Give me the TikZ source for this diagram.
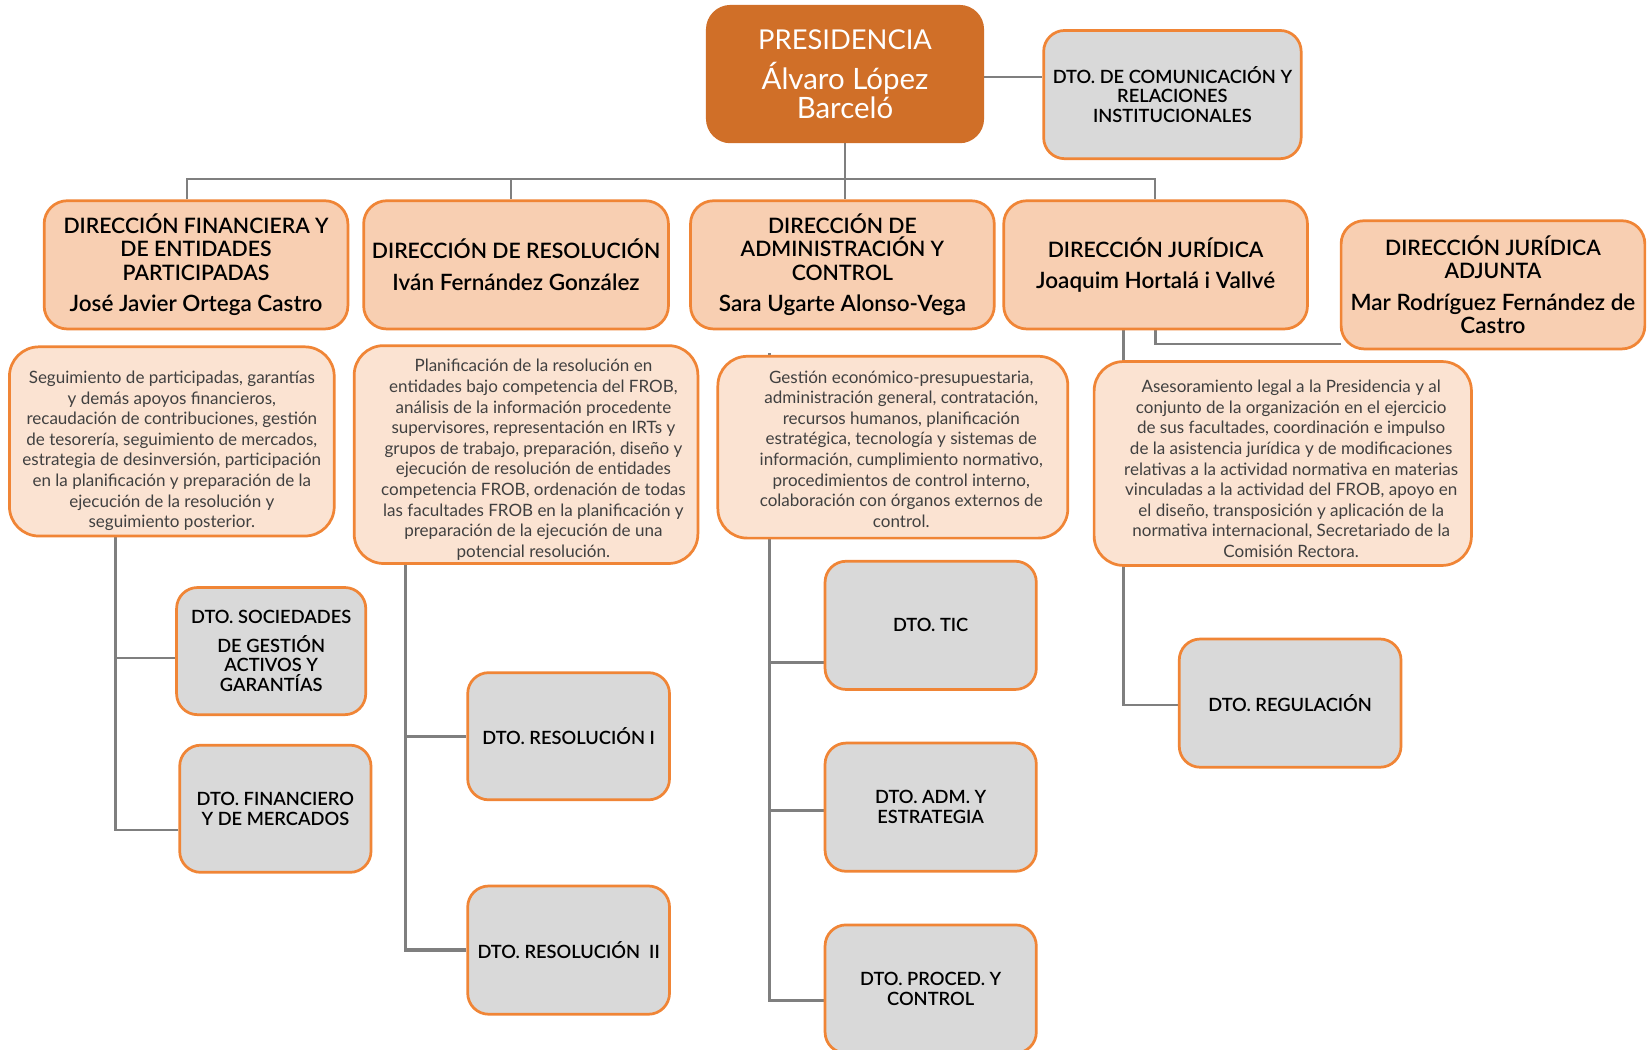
\documentclass[tikz,border=0pt]{standalone}
\usepackage{fontspec}
\IfFontExistsTF{Lato Semibold}{\setmainfont{Lato}[BoldFont={Lato Semibold}]}{\setmainfont{Lato}}
\usetikzlibrary{backgrounds}
\definecolor{presfill}{HTML}{D06F28}
\definecolor{obord}{HTML}{F08536}
\definecolor{dirfill}{HTML}{F8CFB2}
\definecolor{descfill}{HTML}{FBE3D2}
\definecolor{dtofill}{HTML}{D9D9D9}
\definecolor{conncol}{HTML}{7F7F7F}
\definecolor{desctext}{HTML}{404040}
\newcommand\myNameFont{\fontsize{10.7}{11}\selectfont}
\newcommand\myPresName{\fontsize{14}{13.5}\selectfont}
\begin{document}
\begin{tikzpicture}[x=0.5pt,y=-0.5pt,
 box/.style={rectangle, rounded corners=10pt, draw=obord, line width=1.3pt, align=center, inner sep=0pt},
 presbox/.style={box, rounded corners=11pt, fill=presfill, draw=presfill, text=white, font=\fontsize{13}{13.5}\selectfont},
 dirbox/.style={box, rounded corners=11pt, fill=dirfill, minimum width=144.5pt, minimum height=61pt, font=\fontsize{10.1}{11}\selectfont\bfseries},
 descbox/.style={box, fill=descfill, rounded corners=14pt, text=desctext, font=\fontsize{8.1}{9.8}\selectfont},
 dtobox/.style={box, fill=dtofill, minimum height=61pt, font=\fontsize{8.7}{9.4}\selectfont\bfseries},
 conn/.style={draw=conncol, line width=1.1pt},
]
\useasboundingbox (0,0) rectangle (1568,999);

% top
\node[presbox, minimum width=131pt, minimum height=64.5pt] (pres) at (804,70.5) {PRESIDENCIA\\[5.5pt]{\myPresName Álvaro López}\\{\myPresName Barceló}};
\node[dtobox, minimum width=122.5pt] (com) at (1115.5,90) {DTO. DE COMUNICACIÓN Y\\RELACIONES\\INSTITUCIONALES};

% direcciones
\node[dirbox] (d1) at (186.5,252) {DIRECCIÓN FINANCIERA Y\\DE ENTIDADES\\PARTICIPADAS\\[4pt]{\myNameFont José Javier Ortega Castro}};
\node[dirbox, minimum width=145pt] (d2) at (491,252) {DIRECCIÓN DE RESOLUCIÓN\\[4pt]{\myNameFont Iván Fernández González}};
\node[dirbox] (d3) at (801.5,252) {DIRECCIÓN DE\\ADMINISTRACIÓN Y\\CONTROL\\[4pt]{\myNameFont Sara Ugarte Alonso-Vega}};
\node[dirbox] (d4) at (1099.5,252) {DIRECCIÓN JURÍDICA\\[4pt]{\myNameFont Joaquim Hortalá i Vallvé}};
\node[dirbox] (d5) at (1420.5,271) {DIRECCIÓN JURÍDICA\\ADJUNTA\\[4pt]{\myNameFont Mar Rodríguez Fernández de}\\{\myNameFont Castro}};

% descriptions
\node[descbox, minimum width=154.5pt, minimum height=90pt] (desc1) at (163.5,420) {\rule{0pt}{15pt}Seguimiento de participadas, garantías\\y demás apoyos financieros,\\recaudación de contribuciones, gestión\\de tesorería, seguimiento de mercados,\\estrategia de desinversión, participación\\en la planificación y preparación de la\\ejecución de la resolución y\\seguimiento posterior.};
\node[descbox, minimum width=163.5pt, minimum height=103.5pt] (desc2) at (500.5,432.5) {\begin{tabular}{@{\hspace{7pt}}c@{}}\rule{0pt}{12.5pt}Planificación de la resolución en\\entidades bajo competencia del FROB,\\análisis de la información procedente\\supervisores, representación en IRTs y\\grupos de trabajo, preparación, diseño y\\ejecución de resolución de entidades\\competencia FROB, ordenación de todas\\las facultades FROB en la planificación y\\preparación de la ejecución de una\\potencial resolución.\end{tabular}};
\node[descbox, minimum width=166.5pt, minimum height=86.5pt] (desc3) at (849.5,425.5) {\begin{tabular}{@{\hspace{8pt}}c@{}}\rule{0pt}{10.5pt}Gestión económico-presupuestaria,\\administración general, contratación,\\recursos humanos, planificación\\estratégica, tecnología y sistemas de\\información, cumplimiento normativo,\\procedimientos de control interno,\\colaboración con órganos externos de\\control.\end{tabular}};
\node[descbox, minimum width=179.5pt, minimum height=97pt] (desc4) at (1220.5,441) {\begin{tabular}{@{\hspace{8pt}}c@{}}\rule{0pt}{14pt}Asesoramiento legal a la Presidencia y al\\conjunto de la organización en el ejercicio\\de sus facultades, coordinación e impulso\\de la asistencia jurídica y de modificaciones\\relativas a la actividad normativa en materias\\vinculadas a la actividad del FROB, apoyo en\\el diseño, transposición y aplicación de la\\normativa internacional, Secretariado de la\\Comisión Rectora.\end{tabular}};

% departments
\node[dtobox, minimum width=90pt, minimum height=60.5pt] (soc) at (258,619.5) {DTO. SOCIEDADES\\[4pt]DE GESTIÓN\\ACTIVOS Y\\GARANTÍAS};
\node[dtobox, minimum width=91pt, minimum height=60.5pt] (fin) at (262,769.5) {DTO. FINANCIERO\\Y DE MERCADOS};
\node[dtobox, minimum width=96pt, minimum height=60.5pt] (res1) at (541,700.5) {DTO. RESOLUCIÓN I};
\node[dtobox, minimum width=96pt] (res2) at (541,904) {DTO. RESOLUCIÓN~~II};
\node[dtobox, minimum width=100.5pt] (tic) at (885.5,595) {DTO. TIC};
\node[dtobox, minimum width=100.5pt] (adm) at (885.5,768) {DTO. ADM. Y\\ESTRATEGIA};
\node[dtobox, minimum width=100.5pt] (proc) at (885.5,941) {DTO. PROCED. Y\\CONTROL};
\node[dtobox, minimum width=105.5pt] (reg) at (1227.5,669) {DTO. REGULACIÓN};

% connectors
\begin{scope}[on background layer]
\fill[white] (0,0) rectangle (1568,999);
\draw[conn] ([yshift=-1.25pt]pres.east) -- ([yshift=-1.25pt]pres.east -| com.west);
\coordinate (j1) at (178,170);
\coordinate (j2) at (486,170);
\coordinate (j4) at (1099,170);
\draw[conn] (j1 |- d1.north) -- (j1) -- (j4) -- (j4 |- d4.north);
\draw[conn] (j2) -- (j2 |- d2.north);
\draw[conn] (pres.south) -- (pres.south |- d3.north);
\coordinate (k5) at (1276,327);
\draw[conn] (d4.south) |- (k5);
\coordinate (c4) at (1069,671);
\draw[conn] (c4 |- d4.south) -- (c4) -- (c4 -| reg.west);
\coordinate (a1) at (110,626);
\coordinate (a2) at (110,790);
\draw[conn] (a2 |- desc1.south) -- (a2) -- (a2 -| fin.west);
\draw[conn] (a1) -- (a1 -| soc.west);
\coordinate (b2) at (386,904);
\draw[conn, line width=1.6pt] (b2 |- desc2.south) -- (b2) -- (res2.west);
\draw[conn, line width=1.6pt] (b2 |- res1.west) -- (res1.west);
\coordinate (t0) at (732,336);
\coordinate (t1) at (732,630);
\coordinate (t2) at (732,771);
\coordinate (t3) at (732,952);
\draw[conn, line width=1.3pt] (t0) -- (t3) -- (t3 -| proc.west);
\draw[conn, line width=1.3pt] (t1) -- (t1 -| tic.west);
\draw[conn, line width=1.3pt] (t2) -- (t2 -| adm.west);
\end{scope}
\end{tikzpicture}
\end{document}
